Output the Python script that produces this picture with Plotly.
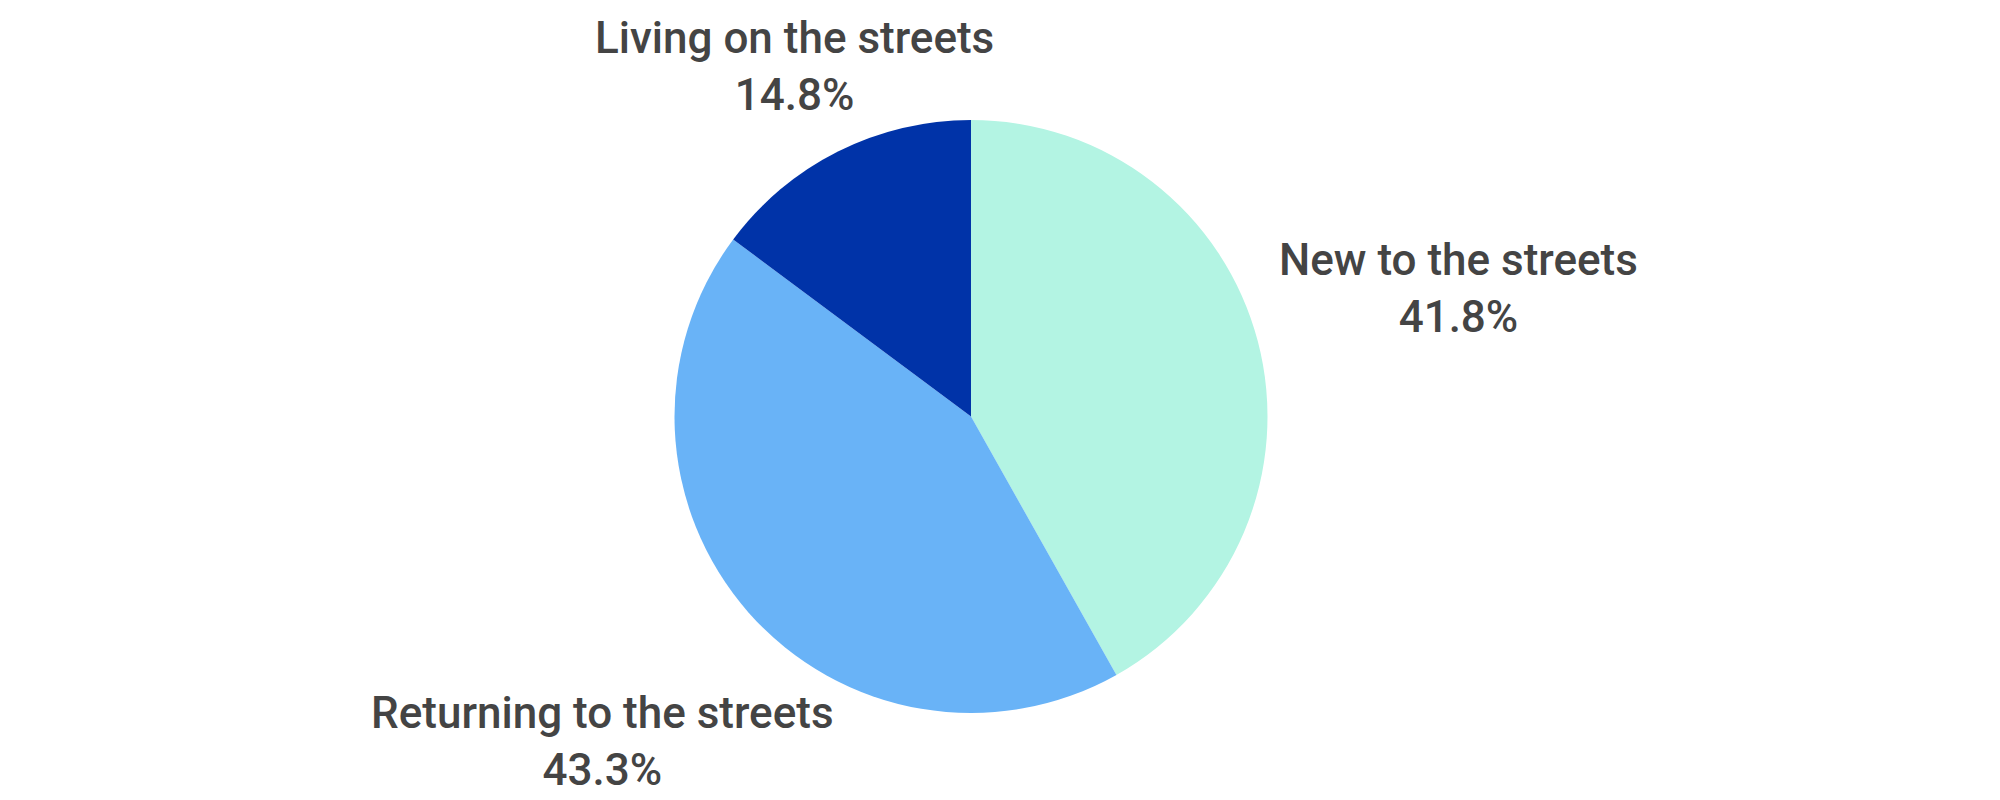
import math
import plotly.graph_objects as go

categories = ["New to the streets", "Returning to the streets", "Living on the streets"]
values = [41.8, 43.3, 14.8]
colors = ["#b3f4e3", "#69b3f7", "#0033a8"]

W, H = 2000, 800
# pie geometry in pixels (page body adds an 8px offset, compensated here)
CX, CY, R = 963, 408.5, 296.5
LABEL_DIST = 1.7      # label centre distance as multiple of radius
TOP_LIMIT = 58        # label centres kept inside these pixel rows
BOTTOM_LIMIT = 733

fig = go.Figure(go.Pie(
    labels=categories,
    values=values,
    sort=False,
    direction="clockwise",
    rotation=0,
    marker=dict(colors=colors, line=dict(width=0)),
    textinfo="none",
    showlegend=False,
    hoverinfo="label+value",
    domain=dict(x=[(CX - R) / W, (CX + R) / W], y=[1 - (CY + R) / H, 1 - (CY - R) / H]),
))

# data labels placed along each slice's mid-angle ray
total = sum(values)
cum = 0.0
for lab, v in zip(categories, values):
    mid = (cum + v / 2) / total * 2 * math.pi
    cum += v
    dx, dy = math.sin(mid), -math.cos(mid)
    t = LABEL_DIST * R
    if dy < 0:
        t = min(t, (CY - TOP_LIMIT) / -dy)
    elif dy > 0:
        t = min(t, (BOTTOM_LIMIT - CY) / dy)
    px, py = CX + t * dx, CY + t * dy
    fig.add_annotation(
        x=px / W, y=1 - py / H, xref="paper", yref="paper",
        text=f"{lab}<br>{v:.1f}%",
        showarrow=False, xanchor="center", yanchor="middle", align="center",
        font=dict(family="Roboto", size=44, color="#444444", weight=500),
    )

fig.update_layout(
    width=W, height=H,
    margin=dict(l=0, r=0, t=0, b=0),
    paper_bgcolor="white",
    plot_bgcolor="white",
)

fig.write_html("out.html")
